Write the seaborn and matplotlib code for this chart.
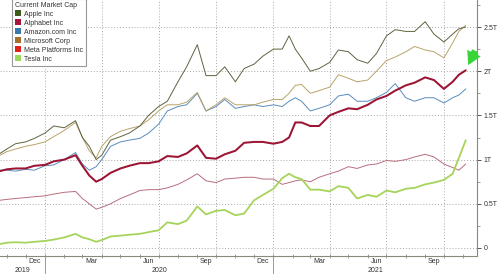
import matplotlib
matplotlib.use("Agg")
import matplotlib.pyplot as plt
import matplotlib.dates as mdates
import matplotlib.transforms as mtransforms
from matplotlib.patches import Patch
from matplotlib.ticker import FixedLocator, FuncFormatter, MultipleLocator
import numpy as np
import pandas as pd
import seaborn as sns

# ---------------- data (market cap, trillions USD) ----------------
dates = pd.to_datetime([
    "2019-10-21", "2019-11-01", "2019-11-15", "2019-12-01", "2019-12-15",
    "2020-01-01", "2020-01-15", "2020-02-01", "2020-02-19", "2020-03-01",
    "2020-03-12", "2020-03-23", "2020-04-01", "2020-04-15", "2020-05-01",
    "2020-05-15", "2020-06-01", "2020-06-15", "2020-07-01", "2020-07-15",
    "2020-08-01", "2020-08-15", "2020-09-01", "2020-09-15", "2020-10-01",
    "2020-10-15", "2020-11-01", "2020-11-15", "2020-12-01", "2020-12-15",
    "2021-01-01", "2021-01-15", "2021-01-26", "2021-02-05", "2021-02-15",
    "2021-03-01", "2021-03-15", "2021-04-01", "2021-04-15", "2021-05-01",
    "2021-05-15", "2021-06-01", "2021-06-15", "2021-07-01", "2021-07-15",
    "2021-08-01", "2021-08-15", "2021-09-01", "2021-09-15", "2021-10-01",
    "2021-10-15", "2021-10-25", "2021-11-05",
])

apple = [1.07, 1.12, 1.18, 1.20, 1.24, 1.30, 1.38, 1.36, 1.44, 1.25,
         1.15, 1.00, 1.05, 1.22, 1.26, 1.30, 1.38, 1.50, 1.60, 1.66,
         1.88, 2.05, 2.30, 1.95, 1.95, 2.05, 1.88, 2.03, 2.08, 2.17,
         2.25, 2.25, 2.40, 2.25, 2.15, 2.00, 2.03, 2.10, 2.24, 2.22,
         2.13, 2.09, 2.20, 2.40, 2.47, 2.45, 2.45, 2.56, 2.42, 2.33,
         2.42, 2.48, 2.50]
alphabet = [0.87, 0.89, 0.90, 0.90, 0.93, 0.94, 0.98, 1.00, 1.05, 0.93,
            0.82, 0.75, 0.78, 0.85, 0.90, 0.93, 0.96, 0.96, 0.98, 1.04,
            1.03, 1.07, 1.16, 1.02, 1.01, 1.06, 1.10, 1.19, 1.20, 1.20,
            1.18, 1.20, 1.25, 1.42, 1.42, 1.38, 1.38, 1.50, 1.54, 1.58,
            1.57, 1.62, 1.68, 1.72, 1.78, 1.84, 1.87, 1.93, 1.90, 1.80,
            1.88, 1.96, 2.01]
amazon = [0.88, 0.88, 0.87, 0.89, 0.88, 0.93, 0.94, 1.00, 1.08, 0.95,
          0.88, 0.92, 1.00, 1.15, 1.20, 1.22, 1.24, 1.30, 1.40, 1.55,
          1.60, 1.62, 1.75, 1.55, 1.60, 1.68, 1.58, 1.60, 1.62, 1.60,
          1.62, 1.60, 1.66, 1.70, 1.66, 1.55, 1.58, 1.62, 1.72, 1.74,
          1.66, 1.66, 1.70, 1.76, 1.86, 1.70, 1.66, 1.70, 1.70, 1.64,
          1.70, 1.73, 1.80]
microsoft = [1.05, 1.09, 1.12, 1.15, 1.17, 1.20, 1.26, 1.33, 1.42, 1.25,
             1.10, 1.02, 1.15, 1.26, 1.32, 1.35, 1.38, 1.45, 1.55, 1.62,
             1.62, 1.65, 1.76, 1.55, 1.62, 1.70, 1.62, 1.62, 1.62, 1.65,
             1.68, 1.68, 1.75, 1.84, 1.85, 1.75, 1.78, 1.82, 1.96, 1.92,
             1.88, 1.90, 2.00, 2.12, 2.16, 2.22, 2.28, 2.24, 2.22, 2.15,
             2.32, 2.45, 2.52]
meta = [0.54, 0.55, 0.56, 0.57, 0.58, 0.59, 0.61, 0.63, 0.64, 0.56,
        0.50, 0.44, 0.46, 0.50, 0.56, 0.60, 0.65, 0.66, 0.66, 0.68,
        0.72, 0.77, 0.84, 0.76, 0.74, 0.78, 0.79, 0.80, 0.80, 0.78,
        0.78, 0.72, 0.74, 0.76, 0.77, 0.75, 0.80, 0.84, 0.87, 0.92,
        0.90, 0.94, 0.95, 0.99, 0.98, 1.00, 1.03, 1.06, 1.03, 0.95,
        0.91, 0.88, 0.95]
tesla = [0.045, 0.06, 0.065, 0.06, 0.07, 0.08, 0.095, 0.12, 0.16, 0.12,
         0.10, 0.07, 0.09, 0.13, 0.14, 0.15, 0.16, 0.18, 0.20, 0.29,
         0.27, 0.31, 0.47, 0.38, 0.42, 0.43, 0.37, 0.39, 0.54, 0.60,
         0.67, 0.79, 0.84, 0.80, 0.78, 0.66, 0.66, 0.64, 0.70, 0.68,
         0.56, 0.60, 0.58, 0.65, 0.63, 0.67, 0.68, 0.72, 0.74, 0.77,
         0.84, 1.02, 1.22]

companies = ["Apple Inc", "Alphabet Inc", "Amazon.com Inc",
             "Microsoft Corp", "Meta Platforms Inc", "Tesla Inc"]
values = {"Apple Inc": apple, "Alphabet Inc": alphabet,
          "Amazon.com Inc": amazon, "Microsoft Corp": microsoft,
          "Meta Platforms Inc": meta, "Tesla Inc": tesla}
legend_title = "Current Market Cap"
y_ticks = [0, 0.5, 1, 1.5, 2, 2.5]
x_labels_months = ["Dec", "Mar", "Jun", "Sep"]
years = ["2019", "2020", "2021"]

# ---------------- styling ----------------
line_colors = {"Apple Inc": "#5e6440", "Alphabet Inc": "#9c1433",
               "Amazon.com Inc": "#5a8cbd", "Microsoft Corp": "#b9a36a",
               "Meta Platforms Inc": "#b86e7e", "Tesla Inc": "#a6d45a"}
legend_colors = {"Apple Inc": "#3d5a1c", "Alphabet Inc": "#a3173f",
                 "Amazon.com Inc": "#3a78b0", "Microsoft Corp": "#a66f2a",
                 "Meta Platforms Inc": "#e0201a", "Tesla Inc": "#9bd95a"}
line_widths = {"Apple Inc": 0.7, "Alphabet Inc": 1.45, "Amazon.com Inc": 0.7,
               "Microsoft Corp": 0.7, "Meta Platforms Inc": 0.7, "Tesla Inc": 1.3}
draw_order = ["Meta Platforms Inc", "Amazon.com Inc", "Microsoft Corp",
              "Apple Inc", "Tesla Inc", "Alphabet Inc"]

sns.set_theme(style="white")
plt.rcParams["font.family"] = ["Liberation Sans", "DejaVu Sans"]

df = pd.DataFrame({"date": np.tile(dates, len(companies)),
                   "company": np.repeat(companies, len(dates)),
                   "cap": np.concatenate([values[c] for c in companies])})

fig = plt.figure(figsize=(5.0, 2.74), dpi=100)
ax = fig.add_axes([0.0, 1 - 256 / 274, 477 / 500, 256 / 274])
ax.set_facecolor("white")

for c in draw_order:
    sub = df[df["company"] == c]
    sns.lineplot(data=sub, x="date", y="cap", color=line_colors[c],
                 linewidth=line_widths[c], ax=ax, legend=False)

x_start = pd.Timestamp("2019-10-21")
x_end = pd.Timestamp("2021-11-23")
ax.set_xlim(x_start, x_end)
ax.set_ylim(-8 / 88.4, 248 / 88.4)
ax.set_xlabel("")
ax.set_ylabel("")

# spines
for s in ["left", "top"]:
    ax.spines[s].set_visible(False)
for s in ["right", "bottom"]:
    ax.spines[s].set_visible(True)
    ax.spines[s].set_color("#8a8a7a")
    ax.spines[s].set_linewidth(0.8)

grid_kw = dict(color="#a8a8a8", linewidth=0.7, linestyle=(0, (1, 2)))

# y axis on the right
ax.yaxis.tick_right()
ax.yaxis.set_major_locator(FixedLocator(y_ticks))
ax.yaxis.set_minor_locator(MultipleLocator(0.25))
ax.yaxis.set_major_formatter(FuncFormatter(lambda v, _: "0" if v == 0 else f"{v:g}T"))
ax.tick_params(axis="y", which="major", length=3, width=0.7, color="#555555",
               labelsize=5, labelcolor="#333333", pad=1.5, right=True, left=False)
ax.tick_params(axis="y", which="minor", length=1.8, width=0.5, color="#777777",
               right=True, left=False)
ax.yaxis.grid(True, which="major", **grid_kw)

# x axis: month labels at mid-month, small ticks at month starts
label_dates = [d + pd.Timedelta(days=14)
               for d in pd.date_range("2019-12-01", "2021-09-01", freq="MS")
               if d.strftime("%b") in x_labels_months]
ax.xaxis.set_major_locator(FixedLocator(mdates.date2num(label_dates)))
ax.xaxis.set_major_formatter(mdates.DateFormatter("%b"))
ax.xaxis.set_minor_locator(mdates.MonthLocator())
ax.tick_params(axis="x", which="major", length=0, labelsize=5, labelcolor="#333333", pad=1.5)
ax.tick_params(axis="x", which="minor", length=2.5, width=0.5, color="#777777",
               direction="inout", bottom=True)
ax.xaxis.grid(False)
for q in pd.date_range("2020-01-01", "2021-10-01", freq="QS"):
    ax.axvline(q, zorder=0, **grid_kw)

# year labels and separators
trans = mtransforms.blended_transform_factory(ax.transData, ax.transAxes)
bounds = [x_start, pd.Timestamp("2020-01-01"), pd.Timestamp("2021-01-01"), x_end]
for i, yr in enumerate(years):
    mid = bounds[i] + (bounds[i + 1] - bounds[i]) / 2
    ax.text(mid, -0.055, yr, transform=trans, ha="center", va="center",
            fontsize=5, color="#333333", clip_on=False)
for b in bounds[1:3]:
    ax.plot([b, b], [0, -0.075], transform=trans, color="#999999",
            linewidth=0.7, clip_on=False)

# legend
handles = [Patch(facecolor=legend_colors[c], edgecolor="none", label=c) for c in companies]
leg = ax.legend(handles=handles, title=legend_title, loc="upper left",
                bbox_to_anchor=(12 / 500, 1.004), bbox_transform=fig.transFigure,
                fontsize=5, title_fontsize=5, frameon=True, fancybox=False,
                handlelength=0.9, handleheight=0.9, handletextpad=0.4,
                labelspacing=0.25, borderpad=0.4, borderaxespad=0,
                alignment="left")
leg.get_frame().set_edgecolor("#999999")
leg.get_frame().set_linewidth(0.8)
leg.get_frame().set_alpha(1)
for t in leg.get_texts():
    t.set_color("#333333")
leg.get_title().set_color("#333333")

# arrow pointing at the latest Alphabet value
last_date = dates[-1]
last_val = alphabet[-1]
ax.annotate("", xy=(last_date + pd.Timedelta(days=2), last_val + 0.03),
            xytext=(last_date + pd.Timedelta(days=17), last_val + 0.25),
            arrowprops=dict(arrowstyle="simple,head_length=0.8,head_width=0.9,tail_width=0.4",
                            color="#38d43a", lw=0),
            annotation_clip=False)

fig.savefig("out.png", dpi=100, facecolor="white")
